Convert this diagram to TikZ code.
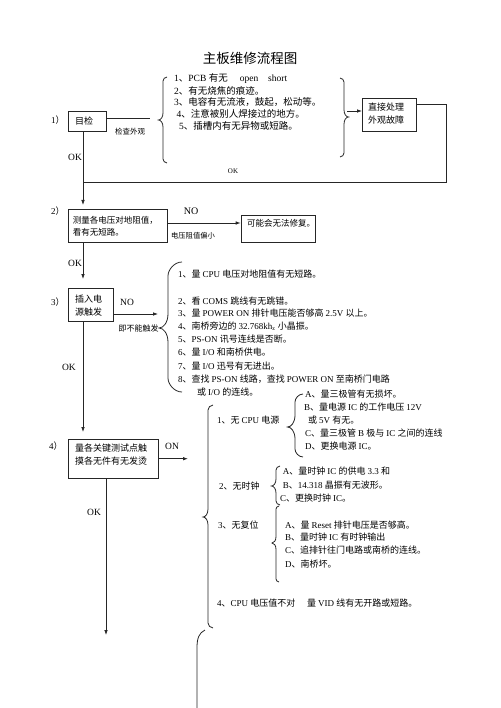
\documentclass[tikz,border=0pt]{standalone}
\usepackage{fontspec}
\setmainfont{Liberation Serif}
\newfontfamily\cjk{Noto Sans CJK SC}
\newcount\mycnt
\mycnt="4E00
\loop \XeTeXcharclass\mycnt=1 \advance\mycnt by 1 \ifnum\mycnt<"A000 \repeat
\XeTeXcharclass"3001=3
\XeTeXcharclass"3002=3
\XeTeXcharclass"FF0C=3
\XeTeXcharclass"FF09=3
\XeTeXcharclass"FF08=2
\XeTeXinterchartokenstate=1
\XeTeXinterchartoks 0 1 = {\cjk}
\XeTeXinterchartoks 4095 1 = {\cjk}
\XeTeXinterchartoks 0 2 = {\cjk}
\XeTeXinterchartoks 4095 2 = {\cjk}
\XeTeXinterchartoks 0 3 = {\cjk}
\XeTeXinterchartoks 4095 3 = {\cjk}
\XeTeXinterchartoks 1 0 = {\rmfamily}
\XeTeXinterchartoks 2 0 = {\rmfamily}
\XeTeXinterchartoks 3 0 = {\rmfamily}
\XeTeXinterchartoks 4095 0 = {\rmfamily}
\usetikzlibrary{arrows.meta}
\tikzset{
  ln/.style={draw=black!85, line width=0.8pt},
  arr/.style={ln, -{Latex[length=5pt,width=3.6pt]}},
  bx/.style={draw=black!85, line width=0.8pt, anchor=north west, inner sep=0pt},
  txt/.style={inner sep=0pt, anchor=west, align=left, font=\fontsize{9}{11}\selectfont},
  txa/.style={inner sep=0pt, anchor=west, align=left, font=\fontsize{9.5}{11}\selectfont},
  bt/.style={inner sep=0pt, anchor=west, align=left, font=\fontsize{9}{13}\selectfont},
  sml/.style={inner sep=0pt, font=\fontsize{7.5}{9}\selectfont},
  okl/.style={inner sep=0pt, font=\fontsize{9.5}{11}\selectfont},
  ttl/.style={inner sep=0pt, font=\fontsize{13.5}{16}\selectfont}
}
\newcommand\bracelft[6]{\draw[ln] ({#1+#5},#2) .. controls ({#1+0.45*#5},#2) and (#1,{#2+0.55*#5}) .. (#1,{#2+#5}) -- (#1,{#3-1.6*#6}) .. controls (#1,{#3-0.6*#6}) and ({#1-0.5*#6},#3) .. ({#1-#6},#3) .. controls ({#1-0.5*#6},#3) and (#1,{#3+0.6*#6}) .. (#1,{#3+1.6*#6}) -- (#1,{#4-#5}) .. controls (#1,{#4-0.55*#5}) and ({#1+0.45*#5},#4) .. ({#1+#5},#4);}
\newcommand\bracergt[6]{\draw[ln] ({#1-#5},#2) .. controls ({#1-0.45*#5},#2) and (#1,{#2+0.55*#5}) .. (#1,{#2+#5}) -- (#1,{#3-1.6*#6}) .. controls (#1,{#3-0.6*#6}) and ({#1+0.5*#6},#3) .. ({#1+#6},#3) .. controls ({#1+0.5*#6},#3) and (#1,{#3+0.6*#6}) .. (#1,{#3+1.6*#6}) -- (#1,{#4-#5}) .. controls (#1,{#4-0.55*#5}) and ({#1-0.45*#5},#4) .. ({#1-#5},#4);}
\begin{document}
\begin{tikzpicture}[x=1pt,y=-1pt]
\useasboundingbox (0,0) rectangle (500,708);
% title
\node[ttl] (title) at (250,58) {主板维修流程图};
% ---------- step 1
\node[bt, anchor=west] (n1) at (51,120) {1）};
\node[bx, minimum width=38pt, minimum height=20pt] (b1) at (68,111) {};
\node[bt] (b1t) at (75,121) {目检};
\coordinate (e1) at (150,118);
\draw[ln] (b1.east |- e1) -- (e1);
\node[sml] (chk) at (130,131.5) {检查外观};
\bracelft{163}{77}{120}{163}{4}{4.5}
\node[txa] (i11) at (174,79) {1、PCB 有无\hspace{12pt}open\hspace{10pt}short};
\node[txa] (i12) at (174,90.7) {2、有无烧焦的痕迹。};
\node[txa] (i13) at (174,102.3) {3、电容有无流液，鼓起，松动等。};
\node[txa] (i14) at (176.5,114) {4、注意被别人焊接过的地方。};
\node[txa] (i15) at (179,125.7) {5、插槽内有无异物或短路。};
\bracergt{344}{78}{117}{157}{4}{4.5}
\node[bx, minimum width=53.5pt, minimum height=33pt] (b5) at (362,98) {};
\node[bt] (b5t) at (368,114) {直接处理\\外观故障};
\coordinate (e2) at (347,111);
\draw[arr] (e2) -- (b5.west |- e2);
\coordinate (e3) at (446,104);
\coordinate (e4) at (83,182);
\draw[ln] (b5.east |- e3) -- (e3) |- (e4);
\node[sml, font=\fontsize{7}{8}\selectfont] (ok0) at (233,171) {OK};
\node[okl] (ok1) at (75,157) {OK};
\coordinate (mx) at (83,0);
\coordinate (mx2) at (106,0);
\coordinate (a2) at (83,205);
\draw[arr] (b1.south -| mx) -- (a2);
% ---------- step 2
\node[bt] (n2) at (51,211) {2）};
\node[bx, minimum width=98.7pt, minimum height=33pt] (b2) at (68,209) {};
\node[bt, font=\fontsize{8.5}{12}\selectfont] (b2t) at (72.7,226) {测量各电压对地阻值，\\看有无短路。};
\node[bx, minimum width=74.3pt, minimum height=27pt] (b6) at (240.7,215) {};
\node[bt, font=\fontsize{8.5}{12}\selectfont] (b6t) at (247,223.5) {可能会无法修复。};
\coordinate (e5) at (0,223);
\draw[arr] (b2.east |- e5) -- (b6.west |- e5);
\node[okl, font=\fontsize{10}{12}\selectfont] (no1) at (191,211) {NO};
\node[sml, font=\fontsize{7.3}{9}\selectfont] (pianxiao) at (193,236) {电压阻值偏小};
\node[okl] (ok2) at (75,263) {OK};
\coordinate (a3) at (83,279);
\draw[arr] (b2.south -| mx) -- (a3);
% ---------- step 3
\node[bt] (n3) at (51,302) {3）};
\node[bx, minimum width=45.3pt, minimum height=32.7pt] (b3) at (68,288.3) {};
\node[bt] (b3t) at (75,305.5) {插入电\\源触发};
\coordinate (e6) at (158,314);
\draw[arr] (b3.east |- e6) -- (e6);
\node[okl] (no2) at (127,302) {NO};
\node[sml, font=\fontsize{8}{9}\selectfont] (bu) at (138.5,328) {即不能触发};
\bracelft{168}{262}{328}{392}{14}{9}
\node[txt] (i31) at (178,274) {1、量 CPU 电压对地阻值有无短路。};
\node[txt] (i32) at (178,301) {2、看 COMS 跳线有无跳错。};
\node[txt] (i33) at (178,313.5) {3、量 POWER ON 排针电压能否够高 2.5V 以上。};
\node[txt] (i34) at (178,326) {4、南桥旁边的 32.768kh\textsubscript{z} 小晶振。};
\node[txt] (i35) at (178,339) {5、PS-ON 讯号连线是否断。};
\node[txt] (i36) at (178,352.5) {6、量 I/O 和南桥供电。};
\node[txt] (i37) at (178,366) {7、量 I/O 迅号有无进出。};
\node[txt] (i38) at (178,379) {8、查找 PS-ON 线路，查找 POWER ON 至南桥门电路};
\node[txt] (i39) at (197,392) {或 I/O 的连线。};
\node[okl] (ok3) at (69,367) {OK};
\coordinate (a4) at (83,432);
\draw[arr] (b3.south -| mx) -- (a4);
% ---------- step 4
\node[bt] (n4) at (49,446) {4）};
\node[bx, minimum width=90pt, minimum height=39pt] (b4) at (68,439.3) {};
\node[bt] (b4t) at (75,454.5) {量各关键测试点触\\摸各无件有无发烫};
\coordinate (e7) at (188,458.7);
\draw[arr] (b4.east |- e7) -- (e7);
\node[okl] (on) at (172,446) {ON};
\node[okl] (ok4) at (94,512) {OK};
\coordinate (a5) at (106,635);
\draw[arr] (b4.south -| mx2) -- (a5);
\bracelft{208}{405}{517}{628}{5}{5}
\draw[ln] (205,630) .. controls (199,633) and (197,638) .. (197,648) -- (197,708);
% sub 1
\node[txt] (c1) at (217,420) {1、无 CPU 电源};
\bracelft{295}{394}{427}{457}{8}{7.5}
\node[txt] (c1a) at (305,394) {A、量三极管有无损坏。};
\node[txt] (c1b) at (304,407) {B、量电源 IC 的工作电压 12V};
\node[txt] (c1b2) at (308,420) {或 5V 有无。};
\node[txt] (c1c) at (305,433) {C、量三极管 B 极与 IC 之间的连线};
\node[txt] (c1d) at (305,446) {D、更换电源 IC。};
% sub 2
\node[txt] (c2) at (219,486) {2、无时钟};
\bracelft{276}{466}{486}{505}{4}{4.5}
\node[txt] (c2a) at (282.7,471) {A、量时钟 IC 的供电 3.3 和};
\node[txt] (c2b) at (282.7,485) {B、14.318 晶振有无波形。};
\node[txt] (c2c) at (280,498.3) {C、更换时钟 IC。};
% sub 3
\node[txt] (c3) at (218,525) {3、无复位};
\bracelft{276}{506}{543}{582}{3}{4}
\node[txt] (c3a) at (285,525) {A、量 Reset 排针电压是否够高。};
\node[txt] (c3b) at (285,537.5) {B、量时钟 IC 有时钟输出};
\node[txt] (c3c) at (285,550.5) {C、追排针往门电路或南桥的连线。};
\node[txt] (c3d) at (285,564) {D、南桥坏。};
% item 4
\node[txt] (c4) at (217,603) {4、CPU 电压值不对};
\node[txt] (c4b) at (307,603) {量 VID 线有无开路或短路。};
\end{tikzpicture}
\end{document}
